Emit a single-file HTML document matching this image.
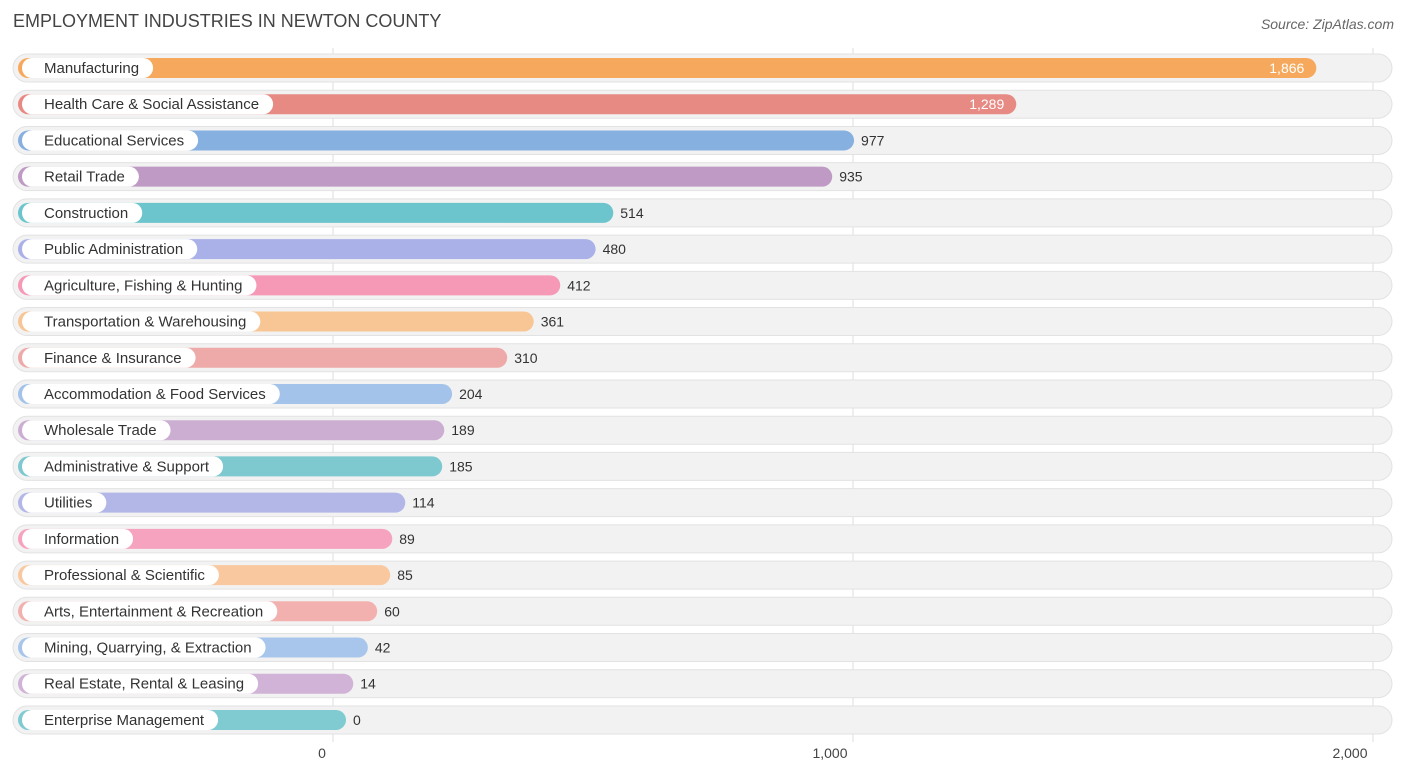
<!DOCTYPE html>
<html><head><meta charset="utf-8">
<style>
body{margin:0;background:#fff;font-family:"Liberation Sans",sans-serif;}
#wrap{position:relative;width:1406px;height:776px;overflow:hidden;}
.title{position:absolute;left:13px;top:11px;font-size:18px;color:#444;}
.source{position:absolute;right:12px;top:16px;font-size:14px;color:#666;font-style:italic;}
</style></head><body>
<div id="wrap">
<div class="title">EMPLOYMENT INDUSTRIES IN NEWTON COUNTY</div>
<div class="source">Source: ZipAtlas.com</div>
<svg id="svg" width="1406" height="776" style="position:absolute;left:0;top:0"></svg>
</div>
<script>
const categories=["Manufacturing","Health Care & Social Assistance","Educational Services","Retail Trade","Construction","Public Administration","Agriculture, Fishing & Hunting","Transportation & Warehousing","Finance & Insurance","Accommodation & Food Services","Wholesale Trade","Administrative & Support","Utilities","Information","Professional & Scientific","Arts, Entertainment & Recreation","Mining, Quarrying, & Extraction","Real Estate, Rental & Leasing","Enterprise Management"];
const values=[1866,1289,977,935,514,480,412,361,310,204,189,185,114,89,85,60,42,14,0];
const colors=["#f6a95c","#e88a84","#86b0e0","#bf9ac4","#6cc5cc","#a9b1e8","#f599b6","#f8c594","#eeaaa8","#a4c3ea","#ccaed2","#7ec8d0","#b2b7e8","#f5a3bf","#f9c89e","#f2b1ae","#a8c6ec","#d0b3d6","#7fcbd1"];
const tickValues=[0,1000,2000];
const tickLabels=["0","1,000","2,000"];
const NS="http://www.w3.org/2000/svg";
const svg=document.getElementById("svg");
const x=v=>333+v*0.52;
const y=i=>68+i*36.22;
function mk(t,a,p){const e=document.createElementNS(NS,t);for(const k in a)e.setAttribute(k,a[k]);(p||svg).appendChild(e);return e;}
tickValues.forEach((t,i)=>{
 const l=mk("line",{x1:x(t),x2:x(t),y1:48,y2:742,stroke:"#ddd","stroke-width":1});
 
 
});
categories.forEach((c,i)=>{
 const g=mk("g",{});
 
 
 const cy=y(i);
 mk("rect",{x:13,y:cy-14,width:1379,height:28,rx:14,fill:"#f2f2f2",stroke:"#e2e2e2"},g);
 const end=x(values[i])+13;
 const b=mk("rect",{x:18,y:cy-10,width:end-18,height:20,rx:10,fill:colors[i]},g);
 
 
 const pill=mk("rect",{x:22,y:cy-10,width:100,height:20,rx:10,fill:"#fff"},g);
 const t=mk("text",{x:44,y:cy+5,"font-size":15,fill:"#333"},g);
 t.textContent=c;
 
 
 pill.setAttribute("width",t.getComputedTextLength()+36);
 const inside=values[i]>1200;
 const v=mk("text",{x:inside?end-12:end+7,y:cy+5,"font-size":14,fill:inside?"#fff":"#333","text-anchor":inside?"end":"start"},g);
 v.textContent=values[i].toLocaleString("en-US");
 
 
});
tickValues.forEach((t,i)=>{
 const tx=mk("text",{x:x(t)-(i==0?11:23),y:758,"font-size":14,fill:"#444","text-anchor":"middle"});
 tx.textContent=tickLabels[i];
 
 
});
</script>
</body></html>
